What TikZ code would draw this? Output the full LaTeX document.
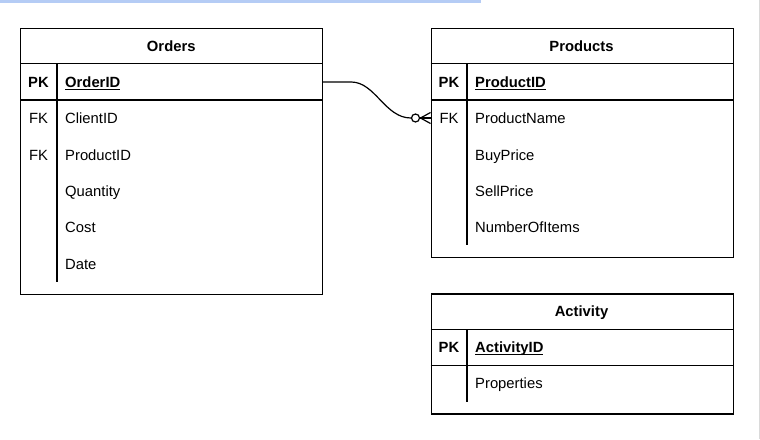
\documentclass[tikz,border=0pt]{standalone}
\usepackage{fontspec}
\setmainfont{Liberation Sans}
\usepackage{tikz}
\usetikzlibrary{positioning,calc}

\definecolor{selblue}{HTML}{B5CCF5}
\definecolor{edgegrey}{HTML}{DADADA}

\newcommand{\pkey}[1]{\underline{\smash{#1}}}

\begin{document}
\begin{tikzpicture}[
  x=1pt, y=-1pt,
  font=\fontsize{14.8}{17}\selectfont,
  tbl/.style={draw, line width=1.2pt, rectangle, anchor=north west, minimum width=302, inner sep=0pt},
  rule/.style={line width=1.2pt},
  hdr/.style={font=\fontsize{14.8}{17}\selectfont\bfseries, anchor=base, inner sep=0pt},
  keycol/.style={anchor=base, inner sep=0pt},
  pk/.style={keycol, font=\fontsize{14.8}{17}\selectfont\bfseries},
  fld/.style={anchor=base west, inner sep=0pt},
  pkfld/.style={fld, font=\fontsize{14.8}{17}\selectfont\bfseries},
  link/.style={line width=1.2pt}
]
\useasboundingbox (0,0) rectangle (760,439);
\fill[selblue] (0,0) rectangle (481,2.5);
\draw[edgegrey, line width=1pt] (759.5,0) -- (759.5,439);

% Orders
\node[tbl, minimum height=266] (orders) at (20,27.5) {};
\node[hdr] (ordersT) at (171.25,51.3) {Orders};
\draw[rule] (20,63.5) -- (322.5,63.5);
\draw[rule] (20,100) -- (322.5,100);
\draw[rule] (57,63.5) -- (57,282);
\node[pk] (oPK) at (38.5,87.3) {PK};
\node[pkfld] (oOrderID) at (65,87.3) {\pkey{OrderID}};
\node[keycol] (oFK1) at (38.5,123.3) {FK};
\node[fld] (oClientID) at (65,123.3) {ClientID};
\node[keycol] (oFK2) at (38.5,160.3) {FK};
\node[fld] (oProductID) at (65,160.3) {ProductID};
\node[fld] (oQuantity) at (65,196.3) {Quantity};
\node[fld] (oCost) at (65,232.3) {Cost};
\node[fld] (oDate) at (65,269.3) {Date};

% Products
\node[tbl, minimum height=229.5] (products) at (430.5,27.5) {};
\node[hdr] (productsT) at (581.5,51.3) {Products};
\draw[rule] (430.5,63.5) -- (732.5,63.5);
\draw[rule] (430.5,100) -- (732.5,100);
\draw[rule] (467,63.5) -- (467,245);
\node[pk] (pPK) at (449,87.3) {PK};
\node[pkfld] (pProductID) at (475,87.3) {\pkey{ProductID}};
\node[keycol] (pFK) at (449,123.3) {FK};
\node[fld] (pProductName) at (475,123.3) {ProductName};
\node[fld] (pBuyPrice) at (475,160.3) {BuyPrice};
\node[fld] (pSellPrice) at (475,196.3) {SellPrice};
\node[fld] (pNumber) at (475,232.3) {NumberOfItems};

% Activity
\node[tbl, minimum height=120] (activity) at (430.5,293.3) {};
\node[hdr] (activityT) at (581.5,316.3) {Activity};
\draw[rule] (430.5,329.5) -- (732.5,329.5);
\draw[rule] (430.5,365.7) -- (732.5,365.7);
\draw[rule] (467,329.5) -- (467,402);
\node[pk] (aPK) at (449,352.3) {PK};
\node[pkfld] (aActivityID) at (475,352.3) {\pkey{ActivityID}};
\node[fld] (aProperties) at (475,388.3) {Properties};

% relationship: one to zero-or-many
\coordinate (oRow) at (orders.east |- 0,82);
\coordinate (pRow) at (products.west |- 0,118);
\node[draw, circle, line width=1.2pt, minimum size=8, inner sep=0pt, fill=white] (zero) at ($(pRow)+(-15,0)$) {};
\draw[link] (oRow) -- ++(28,0) .. controls ++(24,0) and ($(zero.west)+(-26,0)$) .. (zero.west);
\draw[link] (zero.east) -- (pRow);
\draw[link] ($(pRow)+(-10,0)$) -- ($(pRow)+(0,-5.5)$);
\draw[link] ($(pRow)+(-10,0)$) -- ($(pRow)+(0,5.5)$);
\end{tikzpicture}
\end{document}
